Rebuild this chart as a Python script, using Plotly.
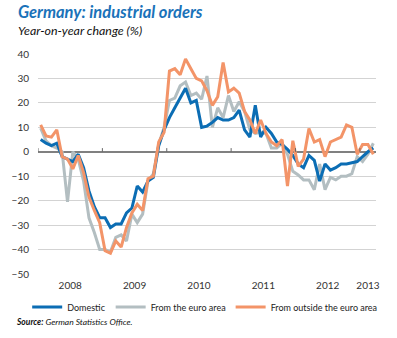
import plotly.graph_objects as go

# Monthly data, Jan 2008 .. Mar 2013 (index 0..62)
months = list(range(63))

domestic = [5, 3.5, 2.5, 3.5, -2, -3, -4, -1, -6.5, -16, -22.5, -27,
            -27, -31, -29.5, -29.5, -25, -23, -14, -16.5, -12, -10.5, 2.5, 9,
            14, 18, 22, 26, 20, 21, 10, 10.5, 12, 14, 13, 13,
            14, 17, 9, 6, 19, 6, 10, 7.5, 4, 3, 1, -1.5,
            -5, -6.5, -1.5, -3.5, -12, -5, -7.5, -6.5, -5, -5, -4.5, -4,
            -2, 0, 1.5]

euro_area = [9.7, 4.5, 2.5, 1.5, 0, -20.5, 0, -3, -12, -27, -33, -40,
             -40, -41, -35, -34, -36.5, -25.5, -29, -25.5, -12, -9, 3, 10,
             21, 22, 27, 28.5, 23, 24, 21.5, 31, 10, 18, 14, 23,
             16.5, 20.5, 16.5, 9, 7.5, 8, 7.5, 1.5, 1.5, 3.5, -1, -8,
             -9.5, -11.5, -11.5, -15.5, -5, -15.5, -10.5, -11.5, -10, -10, -9, -2,
             -4, -1, 3.5]

outside_euro = [11, 6.5, 6, 9, -2, -3, -7, -1.5, -8.5, -18.5, -24, -29,
                -40.5, -41.5, -36.5, -39, -31, -25, -21.5, -24, -11, -10, 4, 8,
                33, 34, 31.5, 38, 34, 30, 29, 25, 19, 22.5, 36.5, 24.5,
                26, 24, 16.5, 13, 7.5, 13, 7.5, 4, 2.5, 5, -14, 4.5,
                -6, -3, 9.5, 4, 5, -2, 4, 5, 6, 11, 10, -1,
                3, 3, -1]

year_labels = ["2008", "2009", "2010", "2011", "2012", "2013"]
year_label_pos = [5.5, 17.5, 29.5, 41.5, 53.5, 61]
year_bounds = [-0.5, 11.5, 23.5, 35.5, 47.5, 59.5]
y_ticks = [40, 30, 20, 10, 0, -10, -20, -30, -40, -50]

BLUE = "#0b6db4"
GRAY = "#b3bec1"
ORANGE = "#f39468"
FONT = "Lato"

fig = go.Figure()
fig.add_trace(go.Scatter(x=months, y=euro_area, mode="lines", name="From the euro area",
                         line=dict(color=GRAY, width=3), legendrank=2))
fig.add_trace(go.Scatter(x=months, y=domestic, mode="lines", name="Domestic",
                         line=dict(color=BLUE, width=3), legendrank=1))
fig.add_trace(go.Scatter(x=months, y=outside_euro, mode="lines", name="From outside the euro area",
                         line=dict(color=ORANGE, width=3), legendrank=3))

for xb in year_bounds:
    fig.add_shape(type="line", x0=xb, x1=xb, y0=0, y1=1.5, xref="x", yref="y",
                  line=dict(color="#666666", width=1))

fig.update_layout(
    width=397, height=338,
    margin=dict(l=36, r=21, t=54, b=64),
    paper_bgcolor="white", plot_bgcolor="white",
    font=dict(family=FONT, size=10, color="#333333"),
    showlegend=True,
    legend=dict(orientation="h", x=-0.032, y=-0.15, xanchor="left", yanchor="middle",
                font=dict(size=9, color="#222222"), bgcolor="rgba(0,0,0,0)",
                traceorder="normal", itemwidth=30),
    xaxis=dict(range=[-0.5, 62.5], showgrid=False, zeroline=False, showline=False,
               tickmode="array", tickvals=year_label_pos, ticktext=year_labels,
               ticks="", ticklabelstandoff=4, tickfont=dict(size=10, color="#333333")),
    yaxis=dict(range=[-50, 40], tickmode="array", tickvals=y_ticks,
               showgrid=True, gridcolor="#d3d3d3", gridwidth=1,
               zeroline=True, zerolinecolor="#808080", zerolinewidth=1.5,
               showline=False, ticks="", ticklabelstandoff=8,
               tickfont=dict(size=10, color="#333333")),
    annotations=[
        dict(text="<b><i>Germany: industrial orders</i></b>", x=-0.065, y=1.19,
             xref="paper", yref="paper", xanchor="left", yanchor="middle", showarrow=False,
             font=dict(family=FONT, size=16.5, color="#1a72b9")),
        dict(text="<i>Year-on-year change (%)</i>", x=-0.065, y=1.106,
             xref="paper", yref="paper", xanchor="left", yanchor="middle", showarrow=False,
             font=dict(family=FONT, size=12.4, color="#111111")),
        dict(text="<b><i>Source:</i></b><i> German Statistics Office.</i>", x=-0.072, y=-0.218,
             xref="paper", yref="paper", xanchor="left", yanchor="middle", showarrow=False,
             font=dict(family=FONT, size=8.5, color="#111111")),
    ],
)

fig.write_html("out.html")
